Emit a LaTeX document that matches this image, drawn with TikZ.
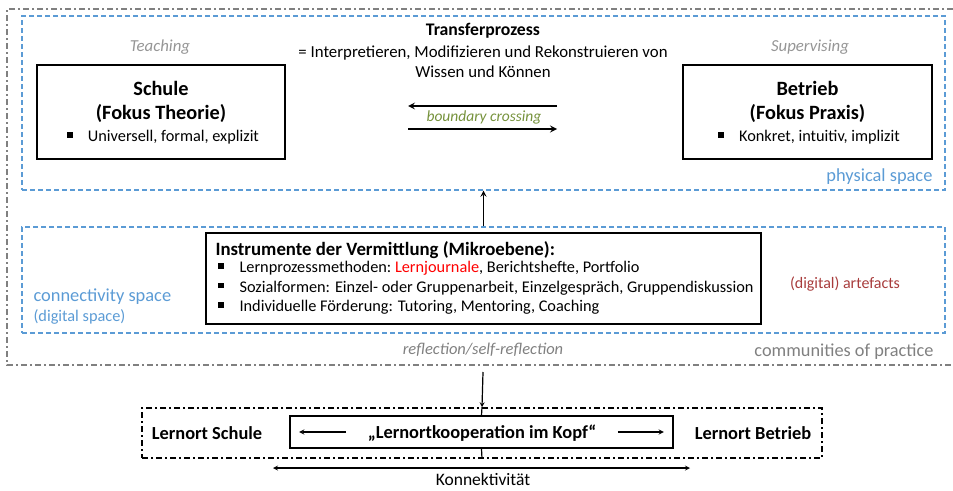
\documentclass[tikz,border=0pt]{standalone}
\usepackage{fontspec}
\setmainfont{Carlito}
\usetikzlibrary{positioning}
\definecolor{spaceblue}{RGB}{91,155,213}
\definecolor{copgray}{RGB}{128,128,128}
\definecolor{rolegray}{RGB}{150,150,150}
\definecolor{crossgreen}{RGB}{118,146,60}
\definecolor{artered}{RGB}{168,60,60}
\definecolor{lernred}{RGB}{255,0,0}
\newcommand{\sqbul}{\rule[0.22em]{0.36em}{0.36em}}
\tikzset{
	arrow/.style={thick, ->, >=stealth},
	spacebox/.style={draw=spaceblue, line width=1.4pt, dash pattern=on 5pt off 3pt},
	mainbox/.style={draw, line width=1.7pt},
	dashdot/.style={line width=1.5pt, dash pattern=on 6pt off 3pt on 2pt off 3pt},
	role/.style={text=rolegray, font=\itshape\fontsize{16.8}{20}\selectfont},
	spacelabel/.style={text=spaceblue, font=\fontsize{18.4}{22}\selectfont},
	lernlabel/.style={font=\bfseries\fontsize{18.4}{22}\selectfont},
}

\begin{document}
\begin{tikzpicture}[x=1pt, y=-1pt, font=\fontsize{16.3}{19.5}\selectfont]
	\useasboundingbox (0,0) rectangle (953,490);

	% communities of practice
	\draw[dashdot, draw=copgray, line width=1.8pt] (953,9) -- (7,9) -- (7,365) -- (953,365);

	% physical space
	\node[spacebox, minimum width=923pt, minimum height=174pt] (physical) at (483.5,103) {};
	\node[mainbox, minimum width=248pt, minimum height=94pt] (schule) at (161,112) {};
	\node[mainbox, minimum width=249pt, minimum height=94pt] (betrieb) at (807.5,112) {};
	\node[align=center, font=\bfseries\fontsize{20.3}{24}\selectfont] (schuletitle) at (161,102) {Schule\\(Fokus Theorie)};
	\node (schuleitem) at (163,137) {\sqbul\hspace{15pt}Universell, formal, explizit};
	\node[align=center, font=\bfseries\fontsize{20.3}{24}\selectfont] (betriebtitle) at (807.5,102) {Betrieb\\(Fokus Praxis)};
	\node (betriebitem) at (809,137) {\sqbul\hspace{15pt}Konkret, intuitiv, implizit};
	\node[role] (teaching) at (160,47) {Teaching};
	\node[role] (supervising) at (810,47) {Supervising};

	\node[font=\bfseries\fontsize{17.7}{21}\selectfont] (transfer) at (483,31) {Transferprozess};
	\node[align=center, font=\fontsize{16.8}{20}\selectfont, below=0pt of transfer] (transferdef) {= Interpretieren, Modifizieren und Rekonstruieren von\\Wissen und Können};

	\coordinate (crossL1) at (408,106);
	\coordinate (crossR1) at (557,106);
	\coordinate (crossL2) at (408,129);
	\coordinate (crossR2) at (557,129);
	\draw[arrow, line width=2pt] (crossR1) -- (crossL1);
	\draw[arrow, line width=2pt] (crossL2) -- (crossR2);
	\node[text=crossgreen, font=\itshape\fontsize{15.5}{18}\selectfont] (crossing) at (484,117) {boundary crossing};
	\node[spacelabel, anchor=east] (physlabel) at (936,177) {physical space};

	% connectivity space
	\node[spacebox, minimum width=923pt, minimum height=106pt] (connect) at (483.5,280) {};
	\node[mainbox, minimum width=555pt, minimum height=91pt] (instr) at (483.5,278.5) {};
	\node[anchor=west, font=\bfseries\fontsize{18.8}{22}\selectfont] (instrtitle) at (212,250) {Instrumente der Vermittlung (Mikroebene):};
	\node[anchor=north west, align=left, inner sep=0pt] (instritems) at (217.5,261) {%
		\sqbul\hspace{16pt}Lernprozessmethoden:~\textcolor{lernred}{Lernjournale}, Berichtshefte, Portfolio\\
		\sqbul\hspace{16pt}Sozialformen: Einzel- oder Gruppenarbeit, Einzelgespräch, Gruppendiskussion\\
		\sqbul\hspace{16pt}Individuelle Förderung: Tutoring, Mentoring, Coaching};
	\node[spacelabel, anchor=west] (connlabel) at (30,297) {connectivity space};
	\node[text=spaceblue, anchor=west] (digitallabel) at (30,317) {(digital space)};
	\node[text=artered, font=\fontsize{16}{19}\selectfont] (artefacts) at (845,284) {(digital) artefacts};
	\draw[arrow, line width=1.6pt] (connect.north) -- (physical.south);

	\node[text=copgray, font=\itshape\fontsize{16.5}{19}\selectfont] (reflection) at (483,350) {reflection/self-reflection};
	\node[text=copgray, font=\fontsize{18.3}{21}\selectfont, anchor=east] (coplabel) at (937,352) {communities of practice};

	% Lernortkooperation
	\coordinate (copout) at (483,372);
	\node[dashdot, draw, minimum width=680pt, minimum height=50pt] (lernort) at (482,433) {};
	\node[mainbox, minimum width=383pt, minimum height=32pt] (kopf) at (481.5,432) {};
	\draw[arrow, line width=1.2pt] (copout) -- (lernort.north);
	\draw[line width=1.2pt] (lernort.north) -- (kopf.north);
	\draw[line width=1.2pt] (kopf.south) -- (lernort.south);
	\node[lernlabel] (kopftext) at (482,433) {„Lernortkooperation im Kopf“};
	\draw[arrow, line width=1.3pt] ([xshift=57pt]kopf.west) -- ([xshift=10pt]kopf.west);
	\draw[arrow, line width=1.3pt] ([xshift=-56pt]kopf.east) -- ([xshift=-10pt]kopf.east);
	\node[lernlabel] (lernschule) at (207,433) {Lernort Schule};
	\node[lernlabel] (lernbetrieb) at (753,433) {Lernort Betrieb};

	\coordinate (konL) at (273,468);
	\coordinate (konR) at (690,468);
	\draw[arrow, <->, line width=1.2pt] (konL) -- (konR);
	\node[font=\fontsize{17.5}{20}\selectfont, inner sep=1pt] (konnekt) at (483,479.5) {Konnektivität};
\end{tikzpicture}
\end{document}
